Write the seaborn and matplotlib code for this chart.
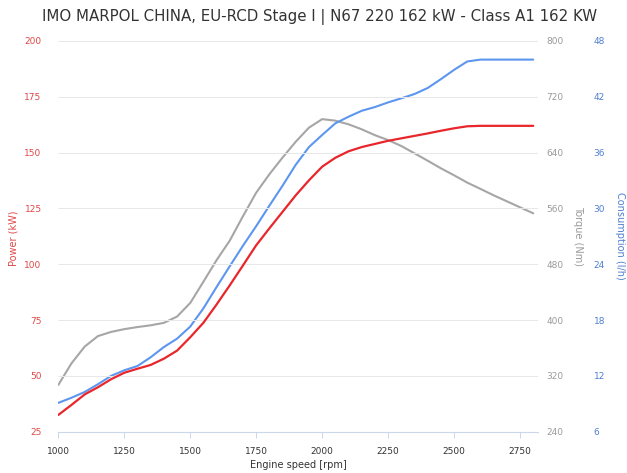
import matplotlib
matplotlib.use("Agg")
import matplotlib.pyplot as plt
import seaborn as sns
import pandas as pd

# ---- data ----
rpm = [1000, 1050, 1100, 1150, 1200, 1250, 1300, 1350, 1400, 1450,
       1500, 1550, 1600, 1650, 1700, 1750, 1800, 1850, 1900, 1950,
       2000, 2050, 2100, 2150, 2200, 2250, 2300, 2350, 2400, 2450,
       2500, 2550, 2600, 2650, 2700, 2750, 2800]
power_kw = [32.5, 37.0, 41.7, 44.9, 48.5, 51.4, 53.2, 54.9, 57.7, 61.3,
            67.3, 73.8, 82.0, 90.6, 99.5, 108.5, 116.1, 123.5, 130.9, 137.6,
            143.7, 147.7, 150.6, 152.5, 153.9, 155.3, 156.4, 157.5, 158.6, 159.8,
            160.9, 161.8, 162, 162, 162, 162, 162]
torque_nm = [307, 338, 362, 377, 383, 387, 390, 392.5, 396, 405,
             424.5, 455, 486, 514, 549, 582.6, 609, 633, 655.7, 675.8,
             688, 685.8, 680.6, 673.4, 665, 658, 649.5, 639, 628.4, 617.5,
             607.5, 597, 588, 578.8, 570.2, 561.6, 553]
consumption_lh = [9.1, 9.65, 10.27, 11.1, 12.0, 12.6, 13.06, 14.0, 15.1, 16.0,
                  17.3, 19.26, 21.56, 23.8, 26.0, 28.1, 30.3, 32.45, 34.7, 36.6,
                  37.9, 39.15, 39.86, 40.5, 40.9, 41.4, 41.84, 42.3, 42.95, 43.9,
                  44.9, 45.8, 46.0, 46.0, 46.0, 46.0, 46.0]

x_ticks = [1000, 1250, 1500, 1750, 2000, 2250, 2500, 2750]
power_ticks = [25, 50, 75, 100, 125, 150, 175, 200]
torque_ticks = [240, 320, 400, 480, 560, 640, 720, 800]
cons_ticks = [6, 12, 18, 24, 30, 36, 42, 48]

title = "IMO MARPOL CHINA, EU-RCD Stage I | N67 220 162 kW - Class A1 162 KW"

df = pd.DataFrame({"rpm": rpm, "power": power_kw, "torque": torque_nm, "cons": consumption_lh})

sns.set_style("white")
plt.rcParams['font.family'] = ['DejaVu Sans']

RED = "#e8262b"
GRAY = "#a6a6a6"
BLUE = "#5d96ef"
RED_T = "#e04848"
GRAY_T = "#9a9a9a"
BLUE_T = "#4f7fd0"

fig = plt.figure(figsize=(6.27, 4.73), dpi=100)
ax = fig.add_axes([58.3 / 627, 1 - 431.7 / 473, (538 - 58.3) / 627, (431.7 - 41) / 473])
ax2 = ax.twinx()
ax3 = ax.twinx()

sns.lineplot(data=df, x="rpm", y="torque", ax=ax2, color=GRAY, linewidth=1.5)
sns.lineplot(data=df, x="rpm", y="cons", ax=ax3, color=BLUE, linewidth=1.5)
sns.lineplot(data=df, x="rpm", y="power", ax=ax, color=RED, linewidth=1.6)
ax.set_zorder(3)
ax.patch.set_visible(False)

ax.set_xlim(1000, 2818)
ax.set_ylim(25, 200)
ax2.set_ylim(240, 800)
ax3.set_ylim(6, 48)

ax.set_xticks(x_ticks)
ax.set_xticklabels([str(v) for v in x_ticks])
ax.set_yticks(power_ticks)
ax.set_yticklabels([str(v) for v in power_ticks])
ax2.set_yticks(torque_ticks)
ax2.set_yticklabels([str(v) for v in torque_ticks])
ax3.set_yticks(cons_ticks)
ax3.set_yticklabels([str(v) for v in cons_ticks])

for a in (ax, ax2, ax3):
    for s in a.spines.values():
        s.set_visible(False)
    a.set_xlabel("")
    a.set_ylabel("")

ax.spines["bottom"].set_visible(True)
ax.spines["bottom"].set_color("#ccd6eb")
ax.spines["bottom"].set_linewidth(0.8)

ax.grid(axis="y", color="#e8e8e8", linewidth=0.7)
ax.grid(axis="x", visible=False)
ax.set_axisbelow(True)

ax.tick_params(axis="x", bottom=True, length=4, width=0.7, color="#ccd6eb",
               labelsize=6.5, labelcolor="#333333", pad=7, direction="out")
ax.tick_params(axis="y", left=False, length=0, labelsize=6.5, labelcolor=RED_T, pad=12)
ax2.tick_params(axis="y", right=False, length=0, labelsize=6.5, labelcolor=GRAY_T, pad=6)
ax3.spines["right"].set_position(("outward", 39))
ax3.tick_params(axis="y", right=False, length=0, labelsize=6.5, labelcolor=BLUE_T, pad=1)

fig.text(0.51, 1 - 17 / 473, title, ha="center", va="center", fontsize=10.8, color="#333333")
fig.text(298 / 627, 1 - 465 / 473, "Engine speed [rpm]", ha="center", va="center",
         fontsize=7, color="#333333")
fig.text(14 / 627, 1 - 238 / 473, "Power (kW)", ha="center", va="center",
         rotation=90, fontsize=7, color=RED_T)
fig.text(578 / 627, 1 - 236 / 473, "Torque (Nm)", ha="center", va="center",
         rotation=270, fontsize=7, color=GRAY_T)
fig.text(620 / 627, 1 - 236 / 473, "Consumption (l/h)", ha="center", va="center",
         rotation=270, fontsize=7, color=BLUE_T)

fig.savefig("out.png", dpi=100, facecolor="white")
